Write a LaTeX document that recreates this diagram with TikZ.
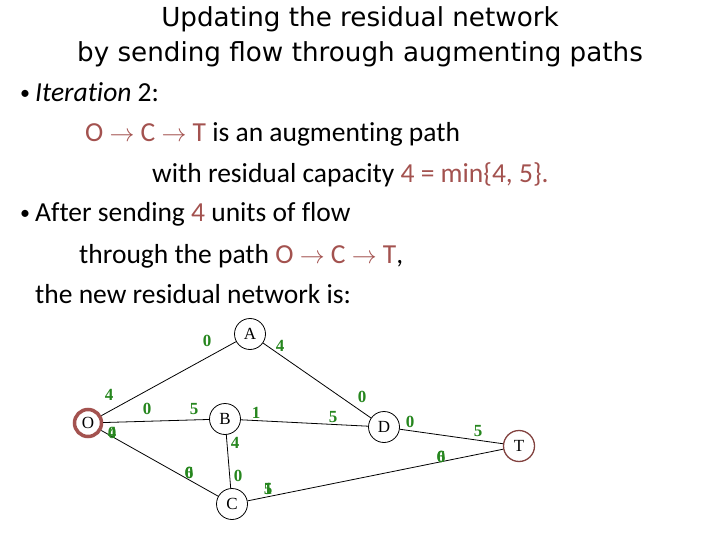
\documentclass[tikz,border=0pt]{standalone}
\usepackage{fontspec}
\setmainfont{Carlito}[Ligatures={NoCommon}]
\newfontfamily\titlefont{DejaVu Sans}
\newfontfamily\graphfont{Liberation Serif}
\definecolor{brownred}{RGB}{163,82,79}
\definecolor{lblgreen}{RGB}{38,134,30}
\begin{document}
\begin{tikzpicture}[x=1pt,y=-1pt,
  vtx/.style={circle,draw=black,line width=0.8pt,minimum size=31pt,inner sep=0pt,font=\graphfont\fontsize{17}{17}\selectfont},
  src/.style={vtx,draw=brownred,line width=3.5pt,minimum size=27pt},
  snk/.style={vtx,draw=brownred!80!black,line width=1.3pt},
  edge/.style={line width=0.8pt,draw=black},
  lbl/.style={text=lblgreen,font=\graphfont\bfseries\fontsize{17}{17}\selectfont,inner sep=0pt},
  body/.style={anchor=base west,inner sep=0pt,font=\fontsize{27.5}{27.5}\selectfont},
  bul/.style={anchor=base west,inner sep=0pt,font=\fontsize{20}{20}\selectfont},
  ttl/.style={anchor=base,inner sep=0pt,font=\titlefont\fontsize{26.2}{26.2}\selectfont}]
\useasboundingbox (0,0) rectangle (720,540);
% title
\node[ttl] (t1) at (360,27) {Updating the residual network};
\node[ttl] (t2) at (360,62) {by sending flow through augmenting paths};
% body
\newcommand{\rb}[1]{\textcolor{brownred}{#1}}
\node[bul] (b1) at (20,100) {\textbullet};
\node[body] (l1) at (35,102) {\textit{Iteration} 2:};
\node[body] (l2) at (85,142) {\rb{O $\rightarrow$ C $\rightarrow$ T} is an augmenting path};
\node[body] (l3) at (152,183) {with residual capacity \rb{4 = min\{4, 5\}.}};
\node[bul] (b2) at (20,220) {\textbullet};
\node[body] (l4) at (35,222) {After sending \rb{4} units of flow};
\node[body] (l5) at (79,263) {through the path \rb{O $\rightarrow$ C $\rightarrow$ T},};
\node[body] (l6) at (35,303) {the new residual network is:};
% graph nodes
\node[src] (O) at (88,423) {O};
\node[vtx] (A) at (250,334) {A};
\node[vtx] (B) at (225,419) {B};
\node[vtx] (C) at (232,504) {C};
\node[vtx] (D) at (384,427) {D};
\node[snk] (T) at (519,446) {T};
% edges
\draw[edge] (O) -- (A);
\draw[edge] (O) -- (B);
\draw[edge] (O) -- (C);
\draw[edge] (A) -- (D);
\draw[edge] (B) -- (D);
\draw[edge] (B) -- (C);
\draw[edge] (C) -- (T);
\draw[edge] (D) -- (T);
% labels
\node[lbl] (e1) at (207,341) {0};
\node[lbl] (e2) at (280,346) {4};
\node[lbl] (e3) at (109,395) {4};
\node[lbl] (e4) at (147,409) {0};
\node[lbl] (e5) at (194,409) {5};
\node[lbl] (e6) at (256,413) {1};
\node[lbl] (e7a) at (112,433) {0};
\node[lbl] (e7b) at (112,433) {4};
\node[lbl] (e8) at (235,443) {4};
\node[lbl] (e9a) at (189,473) {6};
\node[lbl] (e9b) at (189,473) {0};
\node[lbl] (e10) at (238,476) {0};
\node[lbl] (e11a) at (268,489) {1};
\node[lbl] (e11b) at (268,489) {5};
\node[lbl] (e12) at (362,397) {0};
\node[lbl] (e13) at (333,417) {5};
\node[lbl] (e14) at (410,422) {0};
\node[lbl] (e15) at (478,431) {5};
\node[lbl] (e16a) at (441,457) {6};
\node[lbl] (e16b) at (441,457) {0};
\end{tikzpicture}
\end{document}
